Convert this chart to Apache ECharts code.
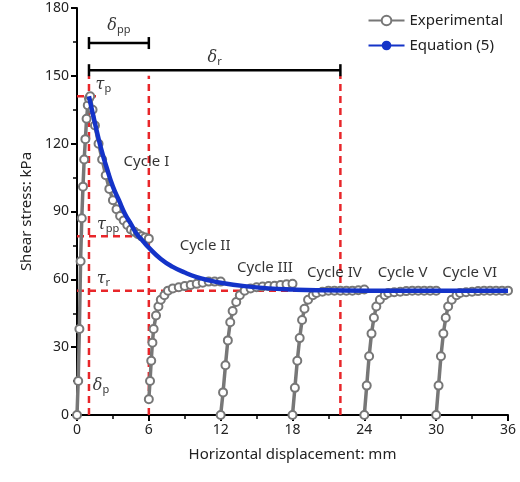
<!DOCTYPE html><html><head><meta charset="utf-8"><script src="https://cdn.jsdelivr.net/npm/echarts@6/dist/echarts.min.js"></script></head><body style="margin:0"><div id="c" style="width:520px;height:482px"></div><script>
const cycle1=[[0,0],[0.1,15],[0.2,38],[0.3,68],[0.4,87],[0.5,101],[0.6,113],[0.7,122],[0.8,131],[0.9,137],[1.0,140],[1.1,141],[1.3,135],[1.5,128],[1.8,120],[2.1,113],[2.4,106],[2.7,100],[3,95],[3.3,91],[3.6,88],[3.9,86],[4.2,84],[4.5,82],[4.8,81],[5.1,80],[5.4,79],[5.7,78.5],[6,78]];
const cycle2=[[6,7],[6.1,15],[6.2,24],[6.3,32],[6.4,38],[6.6,44],[6.8,48],[7,51],[7.3,53],[7.6,55],[8,56],[8.5,56.5],[9,57],[9.5,57.5],[10,58],[10.5,58.5],[11,59],[11.5,59],[12,59]];
const cycle3=[[12,0],[12.2,10],[12.4,22],[12.6,33],[12.8,41],[13,46],[13.3,50],[13.6,53],[14,55],[14.5,56],[15,56.5],[15.5,56.8],[16,57],[16.5,57.2],[17,57.5],[17.5,57.8],[18,58]];
const cycle4=[[18,0],[18.2,12],[18.4,24],[18.6,34],[18.8,42],[19,47],[19.3,51],[19.7,53],[20,54],[20.5,54.5],[21,55],[21.5,55],[22,55],[22.5,55],[23,55],[23.5,55.2],[24,55.5]];
const cycle5=[[24,0],[24.2,13],[24.4,26],[24.6,36],[24.8,43],[25,48],[25.3,51],[25.7,53],[26,54],[26.5,54.3],[27,54.5],[27.5,54.8],[28,55],[28.5,55],[29,55],[29.5,55],[30,55]];
const cycle6=[[30,0],[30.2,13],[30.4,26],[30.6,36],[30.8,43],[31,48],[31.3,51],[31.7,53],[32,54],[32.5,54.3],[33,54.5],[33.5,54.8],[34,55],[34.5,55],[35,55],[35.5,55],[36,55]];
const equation=[[1,141],[1.5,129],[2,118],[2.5,109],[3,101],[3.5,95],[4,89],[4.5,84.5],[5,80],[5.5,77],[6,74],[7,69],[8,65.5],[9,63],[10,61],[11,59.6],[12,58.5],[14,57],[16,56],[18,55.5],[20,55.2],[24,55],[30,55],[36,55]];
const cycleLabels=[["Cycle I",5.8,112],["Cycle II",10.7,75],["Cycle III",15.7,65],["Cycle IV",21.5,63],["Cycle V",27.2,63],["Cycle VI",32.8,63]];
const redLines=[[[1,0],[1,150]],[[6,0],[6,150]],[[22,0],[22,150]],[[0,141],[2,141]],[[0,79],[6,79]],[[0,55],[23,55]]];
const dimLines=[[[1,164.5],[6,164.5]],[[1,152.5],[22,152.5]]];
const ch=echarts.init(document.getElementById('c'));
const F='Noto Sans';
const series=[];
redLines.forEach(d=>series.push({type:'line',data:d,symbol:'none',silent:true,lineStyle:{color:'#e8262a',width:2.5,type:[7,5]},z:1}));
dimLines.forEach(d=>series.push({type:'line',data:d,symbol:'rect',symbolSize:[2.5,12],itemStyle:{color:'#000'},lineStyle:{color:'#000',width:2.5},z:3}));
[cycle1,cycle2,cycle3,cycle4,cycle5,cycle6].forEach(d=>series.push({name:'Experimental',type:'line',data:d,symbol:'emptyCircle',symbolSize:8,showAllSymbol:true,itemStyle:{color:'#777',borderWidth:1.3},lineStyle:{color:'#777',width:3.5},z:4}));
series.push({name:'Equation (5)',type:'line',data:equation,symbol:'none',smooth:true,lineStyle:{color:'#1433c8',width:4.5},itemStyle:{color:'#1433c8'},z:5});
const rich={s:{fontSize:11,fontFamily:F,verticalAlign:'bottom',padding:[8,0,0,0]},g:{fontSize:16,fontStyle:'italic',fontFamily:'DejaVu Serif'}};
const txt=[
 {value:[3.5,172],label:{formatter:'{g|δ}{s|pp}'}},
 {value:[11.5,158],label:{formatter:'{g|δ}{s|r}'}},
 {value:[2.2,146],label:{formatter:'{g|τ}{s|p}'}},
 {value:[2.6,84],label:{formatter:'{g|τ}{s|pp}'}},
 {value:[2.2,60],label:{formatter:'{g|τ}{s|r}'}},
 {value:[2.0,13],label:{formatter:'{g|δ}{s|p}'}}
].concat(cycleLabels.map(c=>({value:[c[1],c[2]],label:{formatter:c[0],fontSize:15,fontFamily:F,color:'#000'}})));
series.push({type:'scatter',data:txt,symbolSize:0,silent:true,z:6,label:{show:true,position:'inside',color:'#000',rich:rich}});
ch.setOption({animation:false,
 grid:{left:77,right:12,top:8,bottom:67},
 legend:{data:['Experimental','Equation (5)'],orient:'vertical',right:12,top:8,itemWidth:36,itemHeight:12,itemGap:10,textStyle:{fontSize:15,fontFamily:F,color:'#222'}},
 xAxis:{type:'value',min:0,max:36,interval:6,name:'Horizontal displacement: mm',nameLocation:'middle',nameGap:32,nameTextStyle:{fontSize:15,fontFamily:F,color:'#222'},
  axisLine:{lineStyle:{color:'#000',width:2}},axisTick:{lineStyle:{width:2},length:6},minorTick:{show:true,splitNumber:2,length:4,lineStyle:{color:'#000',width:1.5}},splitLine:{show:false},axisLabel:{fontSize:14,fontFamily:F,color:'#222'}},
 yAxis:{type:'value',min:0,max:180,interval:30,name:'Shear stress: kPa',nameLocation:'middle',nameGap:42,nameTextStyle:{fontSize:15,fontFamily:F,color:'#222'},
  axisLine:{show:true,lineStyle:{color:'#000',width:2}},axisTick:{show:true,lineStyle:{width:2},length:6},minorTick:{show:true,splitNumber:2,length:4,lineStyle:{color:'#000',width:1.5}},splitLine:{show:false},axisLabel:{fontSize:14,fontFamily:F,color:'#222'}},
 series:series});
</script></body></html>
